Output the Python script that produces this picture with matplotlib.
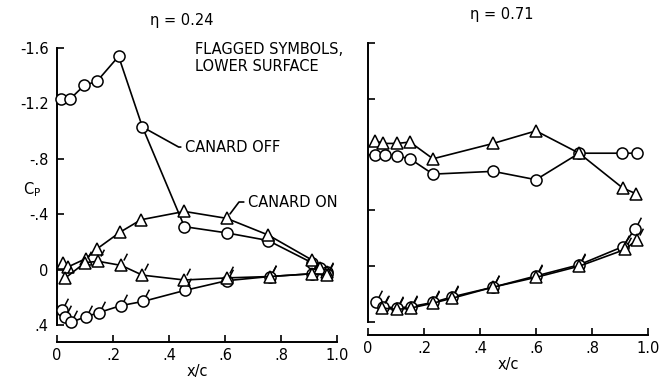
import numpy as np
import matplotlib
matplotlib.use("Agg")
import matplotlib.pyplot as plt
from matplotlib.path import Path
from matplotlib import font_manager

names = {f.name for f in font_manager.fontManager.ttflist}
fam = 'Liberation Sans Narrow' if 'Liberation Sans Narrow' in names else 'DejaVu Sans'
plt.rcParams['font.family'] = [fam, 'DejaVu Sans']
plt.rcParams['font.size'] = 10.5

# eta = 0.24, canard off (circles)
off_up_x_24 = [0.014, 0.046, 0.097, 0.143, 0.22, 0.305, 0.455, 0.606, 0.754, 0.91, 0.94, 0.964]
off_up_cp_24 = [-1.23, -1.23, -1.33, -1.36, -1.54, -1.03, -0.31, -0.265, -0.21, -0.05, -0.01, 0.02]
off_lo_x_24 = [0.017, 0.03, 0.05, 0.104, 0.15, 0.228, 0.307, 0.457, 0.606, 0.76, 0.91, 0.964]
off_lo_cp_24 = [0.29, 0.34, 0.38, 0.34, 0.31, 0.26, 0.23, 0.15, 0.08, 0.05, 0.03, 0.03]
# eta = 0.24, canard on (triangles)
on_up_x_24 = [0.022, 0.04, 0.104, 0.143, 0.225, 0.30, 0.455, 0.606, 0.754, 0.91, 0.94, 0.964]
on_up_cp_24 = [-0.05, -0.02, -0.08, -0.15, -0.27, -0.36, -0.42, -0.37, -0.25, -0.07, -0.01, 0.02]
on_lo_x_24 = [0.03, 0.10, 0.147, 0.23, 0.305, 0.455, 0.606, 0.76, 0.91, 0.964]
on_lo_cp_24 = [0.06, -0.05, -0.06, -0.03, 0.04, 0.075, 0.06, 0.05, 0.03, 0.04]

# eta = 0.71
off_up_x_71 = [0.025, 0.06, 0.104, 0.15, 0.232, 0.447, 0.60, 0.754, 0.907, 0.96]
off_up_cp_71 = [-0.80, -0.80, -0.79, -0.77, -0.66, -0.68, -0.62, -0.81, -0.81, -0.81]
on_up_x_71 = [0.025, 0.054, 0.104, 0.15, 0.232, 0.447, 0.60, 0.754, 0.91, 0.957]
on_up_cp_71 = [-0.90, -0.88, -0.88, -0.89, -0.77, -0.88, -0.97, -0.81, -0.56, -0.52]
off_lo_x_71 = [0.03, 0.054, 0.104, 0.153, 0.232, 0.30, 0.447, 0.60, 0.754, 0.91, 0.954]
off_lo_cp_71 = [0.26, 0.29, 0.30, 0.29, 0.26, 0.22, 0.15, 0.07, -0.01, -0.14, -0.27]
on_lo_x_71 = [0.05, 0.104, 0.153, 0.232, 0.30, 0.447, 0.60, 0.754, 0.918, 0.96]
on_lo_cp_71 = [0.30, 0.31, 0.30, 0.265, 0.23, 0.15, 0.08, 0.00, -0.12, -0.19]

xticks = [0, 0.2, 0.4, 0.6, 0.8, 1.0]
xticklabels = ['0', '.2', '.4', '.6', '.8', '1.0']
yticks = [-1.6, -1.2, -0.8, -0.4, 0, 0.4]
yticklabels = ['-1.6', '-1.2', '-.8', '-.4', '0', '.4']

# short slanted tick used for the flagged (lower surface) symbols
flag = Path([(0.2, 0.42), (0.5, 1.0)], [Path.MOVETO, Path.LINETO])

fig = plt.figure(figsize=(6.69, 3.81), dpi=100)
ax1 = fig.add_axes([57/669, 56/381, 280/669, 277/381])
ax2 = fig.add_axes([368/669, 59/381, 280/669, 279/381])


def series(ax, x, y, mk, flagged=False):
    ax.plot(x, y, color='black', lw=1.2, marker=mk, ms=8 if mk == 'o' else 8.5,
            mfc='white', mec='black', mew=1.1, clip_on=False, zorder=3)
    if flagged:
        ax.plot(x, y, ls='none', marker=flag, ms=17, mec='black', mew=1.1,
                clip_on=False, zorder=4)


def frame(ax, out):
    ax.set_xlim(0, 1.0)
    ax.set_ylim(0.4, -1.6)
    ax.spines['top'].set_visible(False)
    ax.spines['right'].set_visible(False)
    ax.spines['bottom'].set_position(('outward', out))
    for s in ('left', 'bottom'):
        ax.spines[s].set_linewidth(1.4)
    ax.set_xticks(xticks)
    ax.set_xticklabels(xticklabels)
    ax.set_yticks(yticks)
    ax.tick_params(direction='in', length=5, width=1.2)
    ax.tick_params(axis='x', pad=4)
    ax.tick_params(axis='y', pad=6)
    ax.set_xlabel('x/c', labelpad=1)
    ax.patch.set_visible(False)


frame(ax1, 12.2)
ax1.set_yticklabels(yticklabels)
series(ax1, off_up_x_24, off_up_cp_24, 'o')
series(ax1, off_lo_x_24, off_lo_cp_24, 'o', True)
series(ax1, on_up_x_24, on_up_cp_24, '^')
series(ax1, on_lo_x_24, on_lo_cp_24, '^', True)

frame(ax2, 9.4)
ax2.set_yticklabels([])
series(ax2, off_up_x_71, off_up_cp_71, 'o')
series(ax2, on_up_x_71, on_up_cp_71, '^')
series(ax2, off_lo_x_71, off_lo_cp_71, 'o', True)
series(ax2, on_lo_x_71, on_lo_cp_71, '^', True)

ax1.text(0.493, -1.64, 'FLAGGED SYMBOLS,\nLOWER SURFACE', ha='left', va='top',
         linespacing=1.1)
ax1.annotate('CANARD OFF', xy=(off_up_x_24[5], off_up_cp_24[5]), xytext=(0.457, -0.885),
             ha='left', va='center',
             arrowprops=dict(arrowstyle='-', lw=1.2, shrinkA=1, shrinkB=4,
                             connectionstyle='angle,angleA=0,angleB=-29,rad=0'))
ax1.annotate('CANARD ON', xy=(on_up_x_24[7], on_up_cp_24[7]), xytext=(0.682, -0.488),
             ha='left', va='center',
             arrowprops=dict(arrowstyle='-', lw=1.2, shrinkA=1, shrinkB=4,
                             connectionstyle='angle,angleA=0,angleB=53,rad=0'))

fig.text(182/669, 1 - 20/381, 'η = 0.24', ha='center', va='center')
fig.text(502/669, 1 - 15/381, 'η = 0.71', ha='center', va='center')
fig.text(32/669, 1 - 190/381, r'C$_\mathregular{P}$', ha='center', va='center')

fig.savefig('out.png', dpi=100)
